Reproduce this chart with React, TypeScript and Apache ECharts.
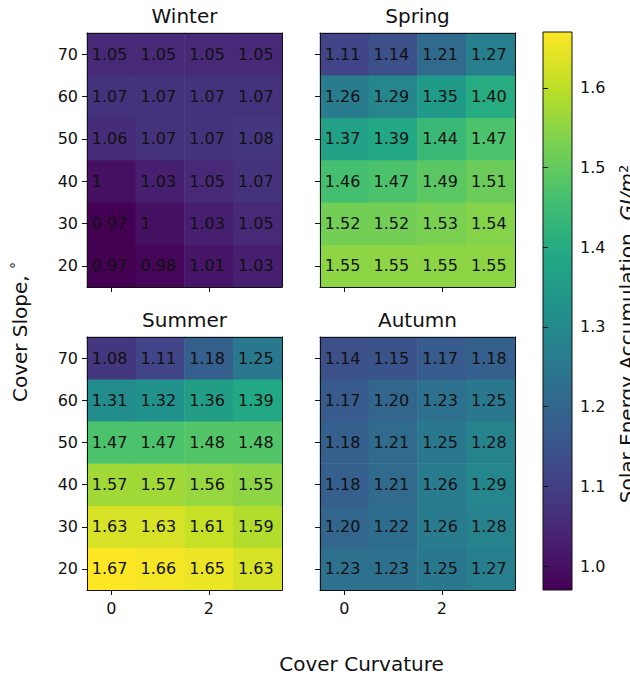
import React, { useEffect, useRef } from "react";
import * as echarts from "echarts";

const curvatureCats = ["0", "1", "2", "3"];
const slopeCats = ["20", "30", "40", "50", "60", "70"];
const seasons = ["Winter", "Spring", "Summer", "Autumn"];

// rows listed bottom (20°) to top (70°), columns curvature 0..3
const winter = [
  [0.97, 0.98, 1.01, 1.03],
  [0.97, 1, 1.03, 1.05],
  [1, 1.03, 1.05, 1.07],
  [1.06, 1.07, 1.07, 1.08],
  [1.07, 1.07, 1.07, 1.07],
  [1.05, 1.05, 1.05, 1.05],
];
const spring = [
  [1.55, 1.55, 1.55, 1.55],
  [1.52, 1.52, 1.53, 1.54],
  [1.46, 1.47, 1.49, 1.51],
  [1.37, 1.39, 1.44, 1.47],
  [1.26, 1.29, 1.35, 1.4],
  [1.11, 1.14, 1.21, 1.27],
];
const summer = [
  [1.67, 1.66, 1.65, 1.63],
  [1.63, 1.63, 1.61, 1.59],
  [1.57, 1.57, 1.56, 1.55],
  [1.47, 1.47, 1.48, 1.48],
  [1.31, 1.32, 1.36, 1.39],
  [1.08, 1.11, 1.18, 1.25],
];
const autumn = [
  [1.23, 1.23, 1.25, 1.27],
  [1.2, 1.22, 1.26, 1.28],
  [1.18, 1.21, 1.26, 1.29],
  [1.18, 1.21, 1.25, 1.28],
  [1.17, 1.2, 1.23, 1.25],
  [1.14, 1.15, 1.17, 1.18],
];
const colorbarTicks = [1.0, 1.1, 1.2, 1.3, 1.4, 1.5, 1.6];
const vMin = 0.97;
const vMax = 1.67;

const viridis = [
  "#440154", "#482475", "#414487", "#355f8d", "#2a788e",
  "#21918c", "#22a884", "#44bf70", "#7ad151", "#bddf26", "#fde725",
];

const FONT = "DejaVu Sans";

export default function App() {
  const ref = useRef<HTMLDivElement>(null);

  useEffect(() => {
    if (!ref.current) return;
    const chart = echarts.init(ref.current, undefined, { renderer: "svg" });

    const tables = [winter, spring, summer, autumn];
    const grids = [
      { left: 87, top: 33, width: 195, height: 254 },
      { left: 320, top: 33, width: 195, height: 254 },
      { left: 87, top: 337, width: 195, height: 253 },
      { left: 320, top: 337, width: 195, height: 253 },
      { left: 543, top: 32, width: 29, height: 558 },
    ];

    const xAxes: any[] = [];
    const yAxes: any[] = [];
    const series: any[] = [];
    const lineStyle = { color: "#111", width: 1 };

    for (let i = 0; i < 4; i++) {
      const showX = i >= 2;
      const showY = i % 2 === 0;
      xAxes.push({
        type: "category",
        gridIndex: i,
        data: curvatureCats,
        position: "bottom",
        z: 5,
        axisLine: { show: true, lineStyle },
        axisTick: { show: true, alignWithLabel: true, interval: 1, length: 5, lineStyle },
        axisLabel: { show: showX, interval: 1, fontSize: 16, fontFamily: FONT, color: "#111", margin: 10 },
        splitLine: { show: false },
      });
      xAxes.push({
        type: "category",
        gridIndex: i,
        data: curvatureCats,
        position: "top",
        z: 5,
        axisLine: { show: true, lineStyle },
        axisTick: { show: false },
        axisLabel: { show: false },
        splitLine: { show: false },
      });
      yAxes.push({
        type: "category",
        gridIndex: i,
        data: slopeCats,
        position: "left",
        z: 5,
        axisLine: { show: true, lineStyle },
        axisTick: { show: true, alignWithLabel: true, length: 5, lineStyle },
        axisLabel: { show: showY, fontSize: 16, fontFamily: FONT, color: "#111", margin: 9 },
        splitLine: { show: false },
      });
      yAxes.push({
        type: "category",
        gridIndex: i,
        data: slopeCats,
        position: "right",
        z: 5,
        axisLine: { show: true, lineStyle },
        axisTick: { show: false },
        axisLabel: { show: false },
        splitLine: { show: false },
      });

      const data: any[] = [];
      tables[i].forEach((row, r) => row.forEach((v, c) => data.push([c, r, v])));
      const isWinter = i === 0;
      series.push({
        type: "heatmap",
        name: seasons[i],
        xAxisIndex: 2 * i,
        yAxisIndex: 2 * i,
        data,
        emphasis: { disabled: true },
        label: {
          show: true,
          position: "insideLeft",
          distance: 5,
          color: "#111",
          fontSize: 16,
          fontFamily: FONT,
          formatter: (p: any) => {
            const v = p.value[2] as number;
            return isWinter ? String(v) : v.toFixed(2);
          },
        },
      });
    }

    // colorbar axes
    xAxes.push({ type: "value", gridIndex: 4, show: false, min: 0, max: 1 });
    yAxes.push({
      type: "value",
      gridIndex: 4,
      min: vMin,
      max: vMax,
      position: "right",
      z: 5,
      axisLine: { show: false },
      axisTick: { show: true, length: 5, lineStyle, customValues: colorbarTicks },
      axisLabel: {
        show: true,
        fontSize: 16,
        fontFamily: FONT,
        color: "#111",
        margin: 8,
        customValues: colorbarTicks,
        formatter: (v: number) => v.toFixed(1),
      },
      splitLine: { show: false },
    });

    const cb = grids[4];
    const titleText = (text: string, x: number, y: number) => ({
      type: "text",
      x,
      y,
      style: { text, fontSize: 20, fontFamily: FONT, fill: "#111", align: "center", verticalAlign: "middle" },
    });

    chart.setOption({
      animation: false,
      backgroundColor: "#fff",
      grid: grids.map((g) => ({ ...g, containLabel: false })),
      xAxis: xAxes,
      yAxis: yAxes,
      visualMap: {
        show: false,
        type: "continuous",
        min: vMin,
        max: vMax,
        dimension: 2,
        seriesIndex: [0, 1, 2, 3],
        inRange: { color: viridis },
      },
      series,
      graphic: [
        {
          type: "rect",
          z: 1,
          shape: { x: cb.left, y: cb.top, width: cb.width, height: cb.height },
          style: {
            fill: {
              type: "linear",
              x: 0,
              y: 1,
              x2: 0,
              y2: 0,
              colorStops: viridis.map((c, k) => ({ offset: k / (viridis.length - 1), color: c })),
            },
            stroke: "#111",
            lineWidth: 1,
          },
        },
        titleText("Winter", 184.5, 15.6),
        titleText("Spring", 417.5, 15.6),
        titleText("Summer", 184.5, 319.6),
        titleText("Autumn", 417.5, 319.6),
        {
          type: "text",
          x: 361.5,
          y: 663.8,
          style: { text: "Cover Curvature", fontSize: 20, fontFamily: FONT, fill: "#111", align: "center", verticalAlign: "middle" },
        },
        {
          type: "text",
          x: 19.8,
          y: 332,
          rotation: Math.PI / 2,
          style: {
            text: "{n|Cover Slope, }{s|°}",
            fontSize: 20,
            fontFamily: FONT,
            fill: "#111",
            align: "center",
            verticalAlign: "middle",
            rich: {
              n: { fontSize: 20, fontFamily: FONT, fill: "#111" },
              s: { fontSize: 14, fontFamily: FONT, fill: "#111", padding: [0, 0, 8, 0] },
            },
          },
        },
        {
          type: "text",
          x: 627,
          y: 334,
          rotation: Math.PI / 2,
          style: {
            text: "{n|Solar Energy Accumulation, }{i|GJ/m}{s|2}",
            fontSize: 20,
            fontFamily: FONT,
            fill: "#111",
            align: "center",
            verticalAlign: "middle",
            rich: {
              n: { fontSize: 20, fontFamily: FONT, fill: "#111" },
              i: { fontSize: 20, fontFamily: FONT, fontStyle: "italic", fill: "#111" },
              s: { fontSize: 13, fontFamily: FONT, fill: "#111", verticalAlign: "top", padding: [0, 0, 8, 0] },
            },
          },
        },
      ],
    });

    return () => chart.dispose();
  }, []);

  return (
    <div
      ref={ref}
      style={{ position: "fixed", left: 0, top: 0, width: 630, height: 677 }}
    />
  );
}
